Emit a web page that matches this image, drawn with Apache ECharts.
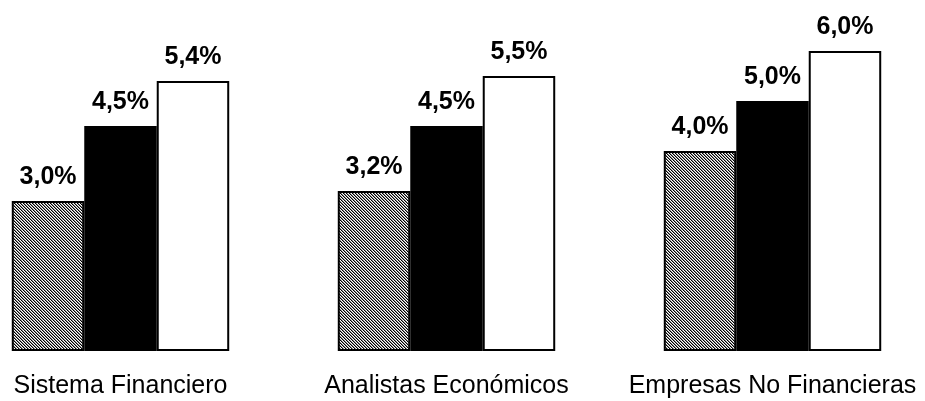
<!DOCTYPE html>
<html>
<head>
<meta charset="utf-8">
<script src="https://cdn.jsdelivr.net/npm/echarts@6/dist/echarts.min.js"></script>
<style>
  html, body { margin: 0; padding: 0; background: #ffffff; }
  #chart { width: 925px; height: 401px; }
</style>
</head>
<body>
<div id="chart"></div>
<script>
// Expectativas de crecimiento por tipo de encuestado (%)
const categories = ['Sistema Financiero', 'Analistas Económicos', 'Empresas No Financieras'];
const serieA = [3.0, 3.2, 4.0];
const serieB = [4.5, 4.5, 5.0];
const serieC = [5.4, 5.5, 6.0];

// Fine diagonal hatch used for the first series (black / grey / white pixel diagonals)
function hatchPattern() {
  const c = document.createElement('canvas');
  c.width = 3; c.height = 3;
  const ctx = c.getContext('2d');
  const tones = ['#000000', '#8c8c8c', '#ffffff'];
  for (let y = 0; y < 3; y++) {
    for (let x = 0; x < 3; x++) {
      ctx.fillStyle = tones[(x - y + 3) % 3];
      ctx.fillRect(x, y, 1, 1);
    }
  }
  return c;
}

const fmt = p => p.value.toFixed(1).replace('.', ',') + '%';

const labelStyle = {
  show: true,
  position: 'top',
  distance: 11,
  formatter: fmt,
  fontFamily: 'Liberation Sans, Arial, sans-serif',
  fontWeight: 'bold',
  fontSize: 25,
  color: '#000'
};

function bar(name, data, fill) {
  return {
    name: name,
    type: 'bar',
    data: data,
    barGap: '0%',
    barCategoryGap: '33.3%',
    itemStyle: { color: fill, borderColor: '#000', borderWidth: 2 },
    label: labelStyle,
    emphasis: { disabled: true },
    silent: true
  };
}

const chart = echarts.init(document.getElementById('chart'), null, { renderer: 'canvas' });
chart.setOption({
  animation: false,
  backgroundColor: '#ffffff',
  // groups sit on the axis ticks; each group spans two thirds of a 326px band
  grid: { left: 120.5, right: 152.5, top: 1, bottom: 50, containLabel: false },
  xAxis: {
    type: 'category',
    data: categories,
    boundaryGap: false,
    axisLine: { show: false },
    axisTick: { show: false },
    axisLabel: {
      interval: 0,
      margin: 23,
      fontFamily: 'Liberation Sans, Arial, sans-serif',
      fontSize: 25,
      color: '#000'
    }
  },
  yAxis: {
    type: 'value',
    min: 0,
    max: 7,
    show: false,
    splitLine: { show: false }
  },
  series: [
    bar('A', serieA, { image: hatchPattern(), repeat: 'repeat' }),
    bar('B', serieB, '#000000'),
    bar('C', serieC, '#ffffff')
  ]
});
</script>
</body>
</html>
